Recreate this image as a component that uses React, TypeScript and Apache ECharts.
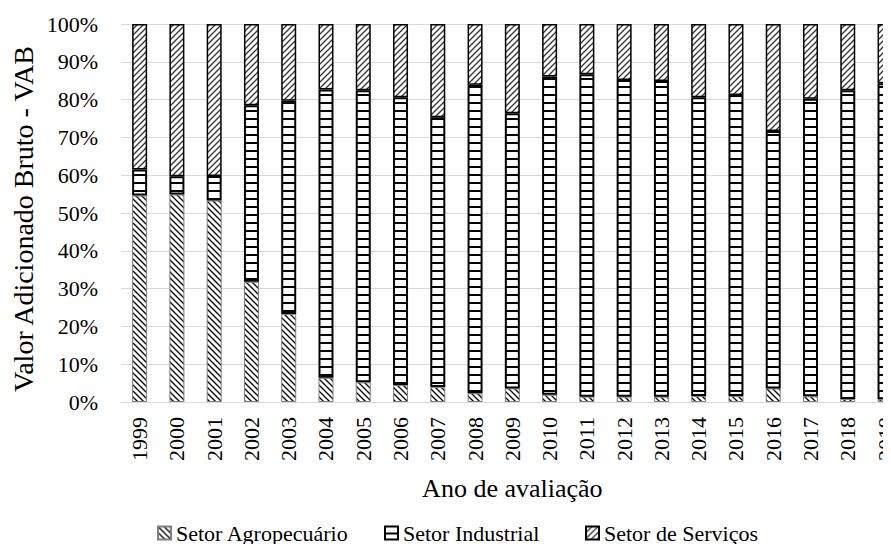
import React, { useEffect, useRef } from "react";
import * as echarts from "echarts";

const years = ["1999","2000","2001","2002","2003","2004","2005","2006","2007","2008","2009","2010","2011","2012","2013","2014","2015","2016","2017","2018","2019"];
const agro = [54.6, 54.9, 53.3, 31.8, 23.3, 6.4, 5.2, 4.5, 4.0, 2.3, 3.6, 1.9, 1.4, 1.4, 1.4, 1.6, 1.6, 3.6, 1.5, 0.8, 0.7];
const industrial = [6.9, 4.8, 6.5, 46.7, 56.4, 76.3, 77.3, 76.1, 71.3, 81.6, 72.8, 84.2, 85.3, 83.8, 83.5, 79.0, 79.6, 68.1, 78.7, 81.7, 83.6];
const servicos = [38.5, 40.3, 40.2, 21.5, 20.3, 17.3, 17.5, 19.4, 24.7, 16.1, 23.6, 13.9, 13.3, 14.8, 15.1, 19.4, 18.8, 28.3, 19.8, 17.5, 15.7];
const seriesNames = ["Setor Agropecuário", "Setor Industrial", "Setor de Serviços"];
const yTicks = [0, 10, 20, 30, 40, 50, 60, 70, 80, 90, 100];

const FONT = "Liberation Serif";

function makePattern(kind: string) {
  const c = document.createElement("canvas");
  const s = kind === "ind" ? 8 : 6;
  c.width = s;
  c.height = s;
  const ctx = c.getContext("2d")!;
  ctx.fillStyle = "#ffffff";
  ctx.fillRect(0, 0, s, s);
  ctx.strokeStyle = "#000000";
  ctx.fillStyle = "#000000";
  if (kind === "ind") {
    ctx.fillRect(0, 6, s, 2);
  } else if (kind === "agro") {
    ctx.lineWidth = 1.3;
    ctx.beginPath();
    ctx.moveTo(-1, -1); ctx.lineTo(s + 1, s + 1);
    ctx.moveTo(-1, s - 1); ctx.lineTo(1, s + 1);
    ctx.moveTo(s - 1, -1); ctx.lineTo(s + 1, 1);
    ctx.stroke();
  } else {
    ctx.lineWidth = 1.3;
    ctx.strokeStyle = "#333333";
    ctx.beginPath();
    ctx.moveTo(-1, s + 1); ctx.lineTo(s + 1, -1);
    ctx.moveTo(-1, 1); ctx.lineTo(1, -1);
    ctx.moveTo(s - 1, s + 1); ctx.lineTo(s + 1, s - 1);
    ctx.stroke();
  }
  return { image: c, repeat: "repeat", imageWidth: s, imageHeight: s } as any;
}

const legendLefts = [157, 384, 585];

export default function App() {
  const ref = useRef<HTMLDivElement>(null);
  useEffect(() => {
    if (!ref.current) return;
    const chart = echarts.init(ref.current, undefined, { renderer: "svg" });
    const pAgro = makePattern("agro");
    const pInd = makePattern("ind");
    const pSer = makePattern("ser");
    const band = 37.27;
    const gridWidth = band * years.length;
    chart.setOption({
      animation: false,
      backgroundColor: "#ffffff",
      textStyle: { fontFamily: FONT },
      grid: { left: 121, top: 24, height: 378, width: gridWidth, containLabel: false, outerBoundsMode: "none" },
      legend: seriesNames.map((n, i) => ({
        data: [n],
        left: legendLefts[i],
        top: 522,
        padding: 0,
        itemWidth: 13,
        itemHeight: 13,
        icon: "rect",
        textStyle: { fontFamily: FONT, fontSize: 22, color: "#000" },
      })),
      xAxis: {
        type: "category",
        data: years,
        axisLine: { show: true, lineStyle: { color: "#d9d9d9", width: 1 } },
        axisTick: { show: false },
        axisLabel: { rotate: 90, fontFamily: FONT, fontSize: 22, color: "#000", margin: 15 },
      },
      yAxis: {
        type: "value",
        min: yTicks[0],
        max: yTicks[yTicks.length - 1],
        interval: 10,
        axisLine: { show: false },
        axisTick: { show: false },
        splitLine: { lineStyle: { color: "#d9d9d9", width: 1 } },
        axisLabel: { formatter: "{value}%", fontFamily: FONT, fontSize: 22, color: "#000", margin: 23 },
      },
      graphic: [
        {
          type: "text",
          x: 23.5,
          y: 219,
          rotation: Math.PI / 2,
          style: {
            text: "Valor Adicionado Bruto - VAB",
            fontFamily: FONT,
            fontSize: 28,
            fill: "#000",
            align: "center",
            verticalAlign: "middle",
          },
        },
        {
          type: "text",
          x: 121 + gridWidth / 2,
          y: 488,
          style: {
            text: "Ano de avaliação",
            fontFamily: FONT,
            fontSize: 26,
            fill: "#000",
            align: "center",
            verticalAlign: "middle",
          },
        },
      ],
      series: [
        {
          name: seriesNames[0],
          type: "bar",
          stack: "vab",
          barWidth: 15,
          data: agro,
          itemStyle: { color: pAgro, borderColor: "#7f7f7f", borderWidth: 1 },
        },
        {
          name: seriesNames[1],
          type: "bar",
          stack: "vab",
          barWidth: 15,
          data: industrial,
          itemStyle: { color: pInd, borderColor: "#000", borderWidth: 2 },
        },
        {
          name: seriesNames[2],
          type: "bar",
          stack: "vab",
          barWidth: 15,
          data: servicos,
          itemStyle: { color: pSer, borderColor: "#000", borderWidth: 1.5 },
        },
      ],
    });
    return () => chart.dispose();
  }, []);
  return <div ref={ref} style={{ width: 891, height: 544, marginLeft: -8, marginTop: -8 }} />;
}
